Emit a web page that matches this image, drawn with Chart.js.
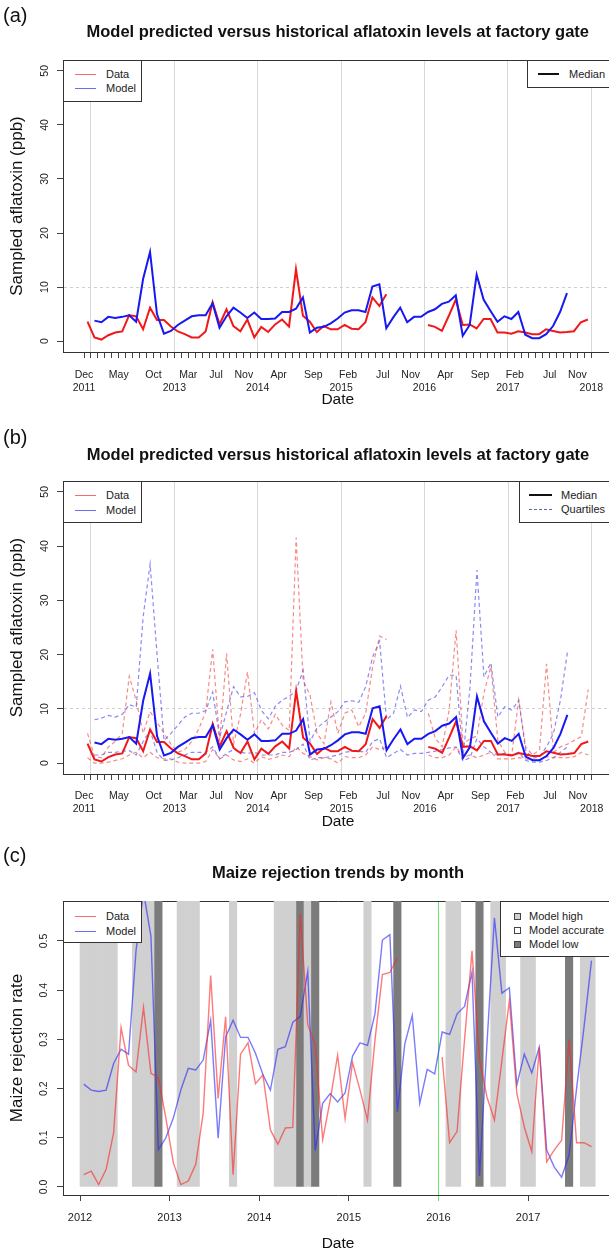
<!DOCTYPE html>
<html>
<head>
<meta charset="utf-8">
<title>Aflatoxin model vs data</title>
<script src="https://cdn.jsdelivr.net/npm/chart.js@4.4.1/dist/chart.umd.min.js"></script>
<style>
  html, body { margin:0; padding:0; background:#fff; overflow:hidden; }
  #wrap { position:relative; width:609px; height:1249px; overflow:hidden; background:#fff; }
  #wrap canvas { position:absolute; left:0; }
  .panel-tag { position:absolute; left:3px; font:20px "Liberation Sans", Arial, sans-serif; color:#111; line-height:20px; }
  .leg { position:absolute; box-sizing:border-box; background:#fff; border:1px solid #333; overflow:hidden; }
  .leg-txt { position:absolute; white-space:nowrap; font:11px "Liberation Sans", Arial, sans-serif; color:#222; line-height:12px; }
  .leg-line { position:absolute; height:0; }
  .leg-sq { position:absolute; box-sizing:border-box; border:1px solid #444; }
</style>
</head>
<body>
<div id="wrap">
  <canvas id="chartA" width="613" height="420" style="top:0px"></canvas>
  <canvas id="chartB" width="613" height="420" style="top:420px"></canvas>
  <canvas id="chartC" width="613" height="420" style="top:840px"></canvas>
  <div class="panel-tag" style="top:5px">(a)</div>
  <div class="panel-tag" style="top:427px">(b)</div>
  <div class="panel-tag" style="top:845px">(c)</div>
</div>
<script>
// ---------------- DATA: panels (a) and (b) — monthly, starting Dec 2011 ----------------
const AB_FIRST_MONTH = '2011-12';
const DATA_MEDIAN = [3.6,
  0.7, 0.3, 1.1, 1.6, 1.8, 4.8, 4.6, 2.2, 6.2, 3.9, 3.9, 2.7,
  1.8, 1.3, 0.7, 0.7, 1.8, 7.2, 3.1, 5.9, 2.8, 1.85, 4.0, 0.7,
  2.65, 1.7, 3.1, 4.0, 2.7, 13.3, 4.7, 3.6, 1.7, 2.8, 2.2, 2.2,
  3.0, 2.3, 2.2, 3.5, 8.1, 6.5, 8.7, null, null, null, null, null,
  3.0, 2.65, 1.9, 4.7, 7.7, 3.0, 3.1, 2.35, 4.1, 4.1, 1.6, 1.6,
  1.4, 1.85, 1.6, 1.3, 1.3, 2.2, 1.9, 1.6, 1.7, 1.85, 3.5, 4.0];
const MODEL_MEDIAN = [null,
  3.8, 3.5, 4.5, 4.3, 4.5, 4.8, 3.6, 11.5, 16.5, 5.0, 1.4, 1.9,
  3.0, 3.8, 4.6, 4.8, 4.8, 7.0, 2.5, 4.6, 6.2, 5.3, 4.3, 5.3,
  4.1, 4.1, 4.2, 5.4, 5.4, 6.0, 8.1, 1.6, 2.5, 2.65, 3.3, 4.2,
  5.3, 5.7, 5.7, 5.4, 10.1, 10.5, 2.4, 4.4, 6.2, 3.5, 4.5, 4.5,
  5.4, 5.9, 6.9, 7.3, 8.5, 1.0, 3.0, 12.3, 7.7, 5.6, 3.6, 4.6,
  4.1, 5.4, 1.2, 0.55, 0.55, 1.3, 2.8, 5.4, 8.9, null, null, null];
const DATA_Q1 = [1.0,
  0.0, 0.0, 0.2, 0.5, 0.8, 1.5, 2.0, 1.0, 2.0, 1.0, 0.8, 0.8,
  0.2, 0.0, 0.0, 0.0, 0.3, 2.5, 0.8, 1.5, 0.6, 0.3, 0.8, 0.0,
  1.2, 0.7, 1.0, 1.5, 1.2, 3.0, 1.8, 1.2, 0.6, 1.0, 0.8, 0.0,
  1.2, 1.0, 1.0, 1.5, 3.0, 2.5, 3.0, null, null, null, null, null,
  1.5, 1.0, 1.0, 1.5, 3.0, 1.0, 1.5, 1.0, 1.5, 2.0, 0.8, 0.8,
  0.8, 1.0, 0.8, 0.5, 0.5, 1.2, 1.0, 1.0, 1.0, 1.2, 2.0, 1.5];
const DATA_Q3 = [5.5,
  1.2, 1.0, 3.0, 4.0, 5.5, 16.0, 11.5, 5.5, 9.5, 7.5, 5.5, 3.5,
  2.0, 2.5, 4.0, 6.3, 9.5, 21.0, 4.0, 20.2, 3.5, 9.0, 16.8, 5.5,
  8.0, 6.3, 9.0, 7.0, 6.0, 41.6, 15.3, 12.5, 5.5, 3.6, 11.3, 5.5,
  9.2, 9.8, 6.7, 9.2, 17.8, 23.4, 22.8, null, null, null, null, null,
  9.2, 4.6, 3.0, 9.8, 24.5, 3.5, 4.5, 5.0, 12.9, 17.8, 4.2, 2.0,
  1.5, 11.7, 3.0, 1.5, 2.5, 18.3, 2.0, 3.0, 3.5, 4.2, 4.9, 13.6];
const MODEL_Q1 = [null,
  1.5, 1.5, 2.0, 2.0, 2.2, 2.3, 1.5, 4.0, 6.0, 2.0, 0.5, 0.6,
  1.0, 1.5, 2.0, 2.0, 2.0, 3.0, 0.8, 1.8, 2.5, 2.0, 1.8, 2.0,
  1.5, 1.5, 1.5, 2.0, 2.0, 2.5, 3.5, 0.6, 1.0, 1.0, 1.2, 1.5,
  2.0, 2.2, 2.2, 2.0, 4.0, 4.5, 1.0, 1.8, 2.5, 1.5, 1.8, 1.8,
  2.0, 2.2, 2.5, 2.8, 3.0, 0.4, 1.0, 4.5, 3.0, 2.0, 1.5, 1.8,
  1.5, 2.0, 0.5, 0.2, 0.2, 0.5, 1.0, 2.0, 3.0, null, null, null];
const MODEL_Q3 = [null,
  8.0, 8.3, 8.8, 8.5, 9.0, 10.8, 10.3, 27.0, 36.7, 20.0, 4.2, 5.5,
  7.0, 8.5, 9.2, 9.2, 9.7, 13.1, 4.8, 9.5, 14.1, 12.2, 12.3, 13.0,
  9.7, 8.2, 10.5, 11.6, 12.3, 13.4, 17.1, 4.0, 6.5, 7.5, 8.5, 9.5,
  11.3, 11.5, 11.2, 14.1, 19.6, 22.5, 8.0, 9.2, 14.2, 8.4, 9.8, 9.5,
  11.6, 12.2, 14.1, 16.2, 16.2, 1.2, 14.0, 35.6, 15.9, 18.5, 8.5, 10.4,
  9.8, 11.6, 2.4, 0.9, 1.2, 3.0, 5.5, 11.6, 20.4, null, null, null];

// tick labels (a)/(b): month row and year row
const AB_TICK_FIRST = '2011-12';
const AB_TICK_LAST = '2018-01';
const AB_MONTH_LABELS = [['2011-12','Dec'],['2012-05','May'],['2012-10','Oct'],['2013-03','Mar'],
  ['2013-07','Jul'],['2013-11','Nov'],['2014-04','Apr'],['2014-09','Sep'],['2015-02','Feb'],
  ['2015-07','Jul'],['2015-11','Nov'],['2016-04','Apr'],['2016-09','Sep'],['2017-02','Feb'],
  ['2017-07','Jul'],['2017-11','Nov']];
const AB_YEAR_LABELS = [['2011-12','2011'],['2013-01','2013'],['2014-01','2014'],['2015-01','2015'],
  ['2016-01','2016'],['2017-01','2017'],['2018-01','2018']];
const AB_Y_TICKS = [0, 10, 20, 30, 40, 50];
const AB_THRESHOLD = 10;

// ---------------- DATA: panel (c) — monthly rejection rate, starting Jan 2012 ----------------
const C_FIRST_MONTH = '2012-01';
const C_DATA = [0.025, 0.032, 0.005, 0.036, 0.11, 0.324, 0.247, 0.234, 0.365, 0.231, 0.222, 0.14,
  0.049, 0.005, 0.012, 0.046, 0.15, 0.43, 0.18, 0.346, 0.025, 0.27, 0.293, 0.21,
  0.228, 0.116, 0.087, 0.12, 0.121, 0.555, 0.33, 0.29, 0.096, 0.176, 0.268, 0.139,
  0.253, 0.197, 0.136, 0.298, 0.432, 0.436, 0.466, null, null, null, null, null,
  0.264, 0.09, 0.113, 0.3, 0.48, 0.26, 0.183, 0.136, 0.257, 0.379, 0.19, 0.122,
  0.072, 0.284, 0.051, 0.075, 0.095, 0.30, 0.09, 0.09, 0.082];
const C_MODEL = [0.209, 0.197, 0.194, 0.197, 0.251, 0.28, 0.27, 0.48, 0.60, 0.51, 0.076, 0.10,
  0.14, 0.197, 0.241, 0.238, 0.258, 0.339, 0.099, 0.305, 0.339, 0.304, 0.304, 0.272,
  0.228, 0.197, 0.28, 0.285, 0.335, 0.347, 0.438, 0.074, 0.17, 0.19, 0.173, 0.191,
  0.266, 0.293, 0.288, 0.352, 0.502, 0.513, 0.153, 0.291, 0.349, 0.17, 0.239, 0.23,
  0.315, 0.31, 0.352, 0.367, 0.437, 0.022, 0.29, 0.547, 0.394, 0.405, 0.207, 0.27,
  0.232, 0.284, 0.075, 0.041, 0.02, 0.065, 0.20, 0.325, 0.46];
// H = model high, A = model accurate, L = model low
const C_STATUS = ['H','H','H','H','H','A','A','H','H','H','L','A',
  'A','H','H','H','A','A','A','A','H','A','A','A',
  'A','A','H','H','H','L','H','L','A','A','A','A',
  'A','A','H','A','A','A','L','A','A','A','A','A',
  'A','H','H','A','A','L','A','H','H','A','A','H',
  'H','A','A','A','A','L','A','H','H'];
const C_YEAR_TICKS = ['2012','2013','2014','2015','2016','2017'];
const C_MARK_YEAR = '2016';
const C_Y_TICKS = [0, 0.1, 0.2, 0.3, 0.4, 0.5];

const TITLE_AB = 'Model predicted versus historical aflatoxin levels at factory gate';
const TITLE_C = 'Maize rejection trends by month';

// ---------------- helpers ----------------
function monthIndex(s) { const p = s.split('-').map(Number); return (p[0] - 2012) * 12 + (p[1] - 1); }
function series(arr, first) { const m0 = monthIndex(first); return arr.map((v, i) => ({ x: m0 + i + 0.5, y: v })); }

Chart.defaults.font.family = '"Liberation Sans", Arial, Helvetica, sans-serif';
Chart.defaults.color = '#222';
Chart.defaults.animation = false;

const FONT_TICK = { size: 10.5, lineHeight: 1.3 };
const TRANSPARENT = 'rgba(0,0,0,0)';
const BOX = '#333';

function topBorderAxis(min, max, h) {
  return {
    type: 'linear', position: 'top', min, max, offset: false,
    ticks: { display: false },
    grid: { color: TRANSPARENT, drawTicks: false, offset: false },
    border: { display: true, color: BOX, width: 1 },
    afterFit: s => { s.height = h; }
  };
}

function yAxis(min, max, tickVals, title, fmt, dashed) {
  return {
    type: 'linear', min, max,
    afterBuildTicks: s => { s.ticks = tickVals.map(v => ({ value: v })); },
    ticks: { minRotation: 90, maxRotation: 90, crossAlign: 'center', padding: 6, font: { size: 10.5 }, color: '#222',
             callback: v => fmt(v) },
    grid: {
      color: c => (dashed && c.tick && c.tick.value === AB_THRESHOLD) ? '#cfcfcf' : TRANSPARENT,
      tickColor: '#444', tickLength: 6, tickWidth: 1, lineWidth: 1
    },
    border: { display: true, color: BOX, width: 1, dash: [3, 3] },
    title: { display: true, text: title, font: { size: 17 }, color: '#111', padding: { top: 7, bottom: 0 } },
    afterFit: s => { s.width = 63; }
  };
}

const AB_X_MIN = -4.026, AB_X_MAX = 75.06;

function abChart(id, cfg) {
  const monthMap = new Map(AB_MONTH_LABELS.map(p => [monthIndex(p[0]), p[1]]));
  const yearMap = new Map(AB_YEAR_LABELS.map(p => [monthIndex(p[0]), p[1]]));
  const tickVals = [];
  for (let m = monthIndex(AB_TICK_FIRST); m <= monthIndex(AB_TICK_LAST); m++) tickVals.push(m);

  const datasets = [];
  if (cfg.quartiles) {
    const q = (arr, col) => ({ data: series(arr, AB_FIRST_MONTH), borderColor: col, borderWidth: 1.2,
      borderDash: [4, 3], pointRadius: 0, order: 5 });
    datasets.push(q(DATA_Q1, 'rgba(240,60,60,0.6)'), q(DATA_Q3, 'rgba(240,60,60,0.6)'),
                  q(MODEL_Q1, 'rgba(60,60,240,0.6)'), q(MODEL_Q3, 'rgba(60,60,240,0.6)'));
  }
  datasets.push({ label: 'Data', data: series(DATA_MEDIAN, AB_FIRST_MONTH), borderColor: '#f01818', borderWidth: 2, pointRadius: 0, order: 1 });
  datasets.push({ label: 'Model', data: series(MODEL_MEDIAN, AB_FIRST_MONTH), borderColor: '#1818f0', borderWidth: 2, pointRadius: 0, order: 0 });

  return new Chart(document.getElementById(id), {
    type: 'line',
    data: { datasets },
    options: {
      responsive: false, animation: false, events: [],
      layout: { padding: 0 },
      elements: { line: { tension: 0 }, point: { radius: 0 } },
      plugins: {
        legend: { display: false }, tooltip: { enabled: false },
        title: { display: true, text: TITLE_AB, fullSize: false, color: '#111',
                 font: { size: 16.5, weight: 'bold' }, padding: { top: cfg.titlePad, bottom: 0 } }
      },
      scales: {
        x: {
          type: 'linear', position: 'bottom', min: AB_X_MIN, max: AB_X_MAX, offset: false,
          afterBuildTicks: s => { s.ticks = tickVals.map(v => ({ value: v })); },
          ticks: {
            autoSkip: false, minRotation: 0, maxRotation: 0, padding: cfg.tickPad, font: FONT_TICK, color: '#222',
            callback: v => {
              const mo = monthMap.get(v) || '', yr = yearMap.get(v) || '';
              if (!mo && !yr) return '';
              return yr ? [mo, yr] : [mo];
            }
          },
          grid: {
            offset: false,
            color: c => (c.tick && ((c.tick.value % 12) + 12) % 12 === 0) ? '#d8d8d8' : TRANSPARENT,
            tickColor: '#444', tickLength: 6, tickWidth: 1, lineWidth: 1
          },
          border: { display: true, color: BOX, width: 1 },
          title: { display: true, text: 'Date', font: { size: 15.5 }, color: '#111', padding: { top: 0, bottom: cfg.datePad } },
          afterFit: s => { s.height = cfg.xHeight; }
        },
        xTop: topBorderAxis(AB_X_MIN, AB_X_MAX, cfg.topH),
        y: yAxis(-2, 52, AB_Y_TICKS, 'Sampled aflatoxin (ppb)', v => String(v), true)
      }
    }
  });
}

abChart('chartA', { quartiles: false, titlePad: 22.1, topH: 18.1, xHeight: 68, tickPad: 10, datePad: 10.7 });
abChart('chartB', { quartiles: true, titlePad: 25.1, topH: 16.1, xHeight: 66, tickPad: 9, datePad: 9.0 });

// ---------------- panel (c) ----------------
const C_X_MIN = -2.277, C_X_MAX = 71.38, C_Y_MIN = -0.0163, C_Y_MAX = 0.5813;
(function () {
  const m0 = monthIndex(C_FIRST_MONTH);
  const shade = { H: '#d0d0d0', L: '#7b7b7b' };
  const barPts = [], barCols = [];
  C_STATUS.forEach((s, i) => { if (s !== 'A') { barPts.push({ x: m0 + i + 0.5, y: [0, C_Y_MAX] }); barCols.push(shade[s]); } });
  const yearTicks = C_YEAR_TICKS.map(y => monthIndex(y + '-01'));
  const mark = monthIndex(C_MARK_YEAR + '-01');
  new Chart(document.getElementById('chartC'), {
    type: 'line',
    data: {
      datasets: [
        { type: 'bar', label: 'Model status', data: barPts, backgroundColor: barCols, borderWidth: 0,
          barPercentage: 1, categoryPercentage: 1, order: 10 },
        { label: 'Data', data: series(C_DATA, C_FIRST_MONTH), borderColor: 'rgba(250,40,40,0.62)', borderWidth: 1.4, pointRadius: 0, order: 1 },
        { label: 'Model', data: series(C_MODEL, C_FIRST_MONTH), borderColor: 'rgba(40,40,250,0.62)', borderWidth: 1.4, pointRadius: 0, order: 2 }
      ]
    },
    options: {
      responsive: false, animation: false, events: [],
      layout: { padding: 0 },
      elements: { line: { tension: 0 }, point: { radius: 0 } },
      plugins: {
        legend: { display: false }, tooltip: { enabled: false },
        title: { display: true, text: TITLE_C, fullSize: false, color: '#111',
                 font: { size: 16.5, weight: 'bold' }, padding: { top: 23.1, bottom: 0 } }
      },
      scales: {
        x: {
          type: 'linear', position: 'bottom', min: C_X_MIN, max: C_X_MAX, offset: false,
          afterBuildTicks: s => { s.ticks = yearTicks.map(v => ({ value: v })); },
          ticks: { autoSkip: false, minRotation: 0, maxRotation: 0, padding: 10, font: { size: 11 }, color: '#222',
                   callback: v => C_YEAR_TICKS[yearTicks.indexOf(v)] },
          grid: {
            offset: false,
            color: c => (c.tick && c.tick.value === mark) ? '#6be36b' : TRANSPARENT,
            tickColor: c => (c.tick && c.tick.value === mark) ? '#6be36b' : '#444',
            tickLength: 6, tickWidth: 1, lineWidth: 1
          },
          border: { display: true, color: BOX, width: 1 },
          title: { display: true, text: 'Date', font: { size: 15.5 }, color: '#111', padding: { top: 0, bottom: 7.4 } },
          afterFit: s => { s.height = 65; }
        },
        xTop: topBorderAxis(C_X_MIN, C_X_MAX, 18.1),
        y: yAxis(C_Y_MIN, C_Y_MAX, C_Y_TICKS, 'Maize rejection rate', v => v.toFixed(1), false)
      }
    }
  });
})();

// ---------------- legends (HTML overlays) ----------------
const wrap = document.getElementById('wrap');
function legend(box, rows) {
  const d = document.createElement('div');
  d.className = 'leg';
  Object.assign(d.style, { left: box.l + 'px', top: box.t + 'px', width: (box.r - box.l) + 'px', height: (box.b - box.t) + 'px' });
  rows.forEach(r => {
    if (r.line) {
      const s = document.createElement('div');
      s.className = 'leg-line';
      Object.assign(s.style, { left: (r.x1 - box.l - 1) + 'px', width: (r.x2 - r.x1) + 'px',
        top: (r.y - box.t - 1 - r.line.w / 2) + 'px', borderTop: r.line.w + 'px ' + (r.line.dash ? 'dashed ' : 'solid ') + r.line.c });
      d.appendChild(s);
    }
    if (r.sq) {
      const s = document.createElement('div');
      s.className = 'leg-sq';
      Object.assign(s.style, { left: (r.sx - box.l - 1 - 3.5) + 'px', top: (r.y - box.t - 1 - 3.5) + 'px', width: '7px', height: '7px', background: r.sq });
      d.appendChild(s);
    }
    const t = document.createElement('div');
    t.className = 'leg-txt';
    t.textContent = r.text;
    Object.assign(t.style, { left: (r.tx - box.l - 1) + 'px', top: (r.y - box.t - 1 - 6.5) + 'px' });
    d.appendChild(t);
  });
  wrap.appendChild(d);
}
const dataLine = { w: 1, c: 'rgba(240,60,60,0.75)' }, modelLine = { w: 1, c: 'rgba(60,60,240,0.75)' };
// panel (a)
legend({ l: 63, t: 60, r: 142, b: 102 }, [
  { y: 74, x1: 75, x2: 96, tx: 106, line: dataLine, text: 'Data' },
  { y: 88, x1: 75, x2: 96, tx: 106, line: modelLine, text: 'Model' }]);
legend({ l: 527, t: 60, r: 640, b: 88 }, [
  { y: 74, x1: 538, x2: 559, tx: 569, line: { w: 2, c: '#111' }, text: 'Median' }]);
// panel (b)
legend({ l: 63, t: 481, r: 142, b: 523 }, [
  { y: 495, x1: 75, x2: 96, tx: 106, line: dataLine, text: 'Data' },
  { y: 510, x1: 75, x2: 96, tx: 106, line: modelLine, text: 'Model' }]);
legend({ l: 519, t: 481, r: 640, b: 523 }, [
  { y: 495, x1: 529, x2: 552, tx: 561, line: { w: 2, c: '#111' }, text: 'Median' },
  { y: 509.5, x1: 529, x2: 552, tx: 561, line: { w: 1, c: '#5a6aa8', dash: true }, text: 'Quartiles' }]);
// panel (c)
legend({ l: 63, t: 901, r: 142, b: 943 }, [
  { y: 916, x1: 75, x2: 96, tx: 106, line: dataLine, text: 'Data' },
  { y: 931, x1: 75, x2: 96, tx: 106, line: modelLine, text: 'Model' }]);
legend({ l: 500, t: 901, r: 640, b: 957 }, [
  { y: 916, sx: 517, sq: '#d0d0d0', tx: 529, text: 'Model high' },
  { y: 930.5, sx: 517, sq: '#ffffff', tx: 529, text: 'Model accurate' },
  { y: 944.5, sx: 517, sq: '#7b7b7b', tx: 529, text: 'Model low' }]);
</script>
</body>
</html>
